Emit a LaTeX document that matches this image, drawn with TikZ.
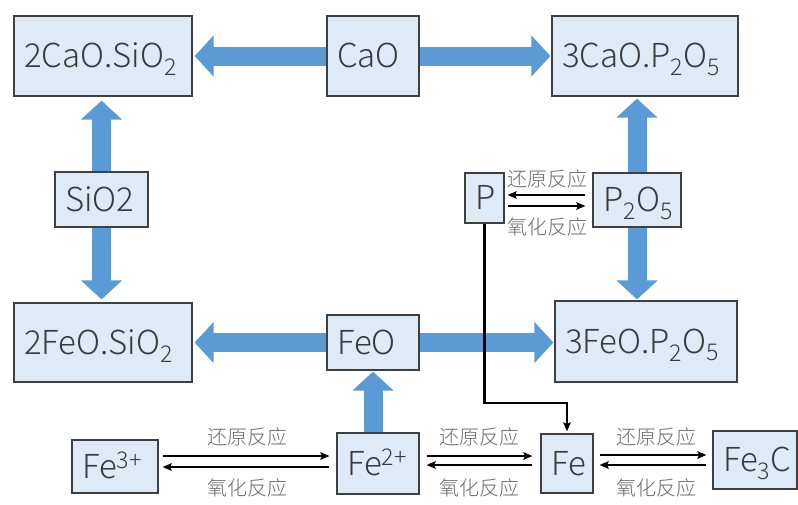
\documentclass[tikz,border=0pt]{standalone}
\usepackage{fontspec}
\setmainfont{Noto Sans CJK SC Light}
\usetikzlibrary{arrows.meta,calc}
\definecolor{boxfill}{HTML}{DEEBF7}
\definecolor{boxline}{HTML}{3F3F3F}
\definecolor{bluearr}{HTML}{5B9BD5}
\definecolor{txt}{HTML}{3A3A3A}
\definecolor{lblc}{HTML}{6A6A6A}
\newcommand\chs[1]{\textsubscript{#1}}
\newcommand\chp[1]{\textsuperscript{#1}}
\begin{document}
\begin{tikzpicture}[x=1pt,y=-1pt,
  box/.style={draw=boxline, fill=boxfill, line width=1.2pt, inner ysep=0pt, inner xsep=10pt,
    align=left, text=txt, font=\fontsize{33}{36}\selectfont, text height=23pt, text depth=0pt},
  lbl/.style={text=lblc, inner sep=0pt, font=\fontsize{20}{22}\selectfont},
  bigarr/.style={draw=bluearr, line width=19pt, -{Triangle[length=19pt,width=40pt]}},
  rx/.style={draw=black, line width=2.1pt, -{Stealth[length=9pt,width=7.5pt,inset=1.5pt]}}]
\fill[white] (0,0) rectangle (798,504);
\useasboundingbox (0,0) rectangle (798,504);
% boxes
\node[box, minimum height=80pt, text width=158pt] (c2s) at (103,56) {2CaO.SiO\chs{2}};
\node[box, minimum height=80pt, text width=72pt] (cao) at (373,56) {CaO};
\node[box, minimum height=80pt, text width=166pt] (c3p) at (645,56) {3CaO.P\chs{2}O\chs{5}};
\node[box, minimum height=55pt, text width=73pt] (sio2) at (101.5,199.5) {SiO2};
\node[box, minimum height=50pt, text width=19pt, inner xsep=10pt] (p) at (484.5,198) {P};
\node[box, minimum height=54pt, text width=68pt] (p2o5) at (637,200) {P\chs{2}O\chs{5}};
\node[box, minimum height=79pt, text width=158pt] (f2s) at (103,342.5) {2FeO.SiO\chs{2}};
\node[box, minimum height=55pt, text width=72pt] (feo) at (373,342.5) {FeO};
\node[box, minimum height=81pt, text width=162pt] (f3p) at (646,341.5) {3FeO.P\chs{2}O\chs{5}};
\node[box, minimum height=53pt, text width=66pt] (fe3) at (115,466.5) {Fe\chp{3+}};
\node[box, minimum height=61pt, text width=62pt] (fe2) at (378,463.5) {Fe\chp{2+}};
\node[box, minimum height=59pt, text width=32pt] (fe) at (567,463.5) {Fe};
\node[box, minimum height=58pt, text width=64pt] (fe3c) at (755,460) {Fe\chs{3}C};
% labels
\node[lbl] (l1) at (547,179) {还原反应};
\node[lbl] (l2) at (547,227) {氧化反应};
\node[lbl] (l3) at (247,437) {还原反应};
\node[lbl] (l4) at (247,488) {氧化反应};
\node[lbl] (l5) at (479,437) {还原反应};
\node[lbl] (l6) at (479,488) {氧化反应};
\node[lbl] (l7) at (656,437) {还原反应};
\node[lbl] (l8) at (656,488) {氧化反应};
% helper levels
\coordinate (ypa) at (0,195);
\coordinate (ypb) at (0,206);
\coordinate (ya) at (0,456);
\coordinate (yb) at (0,467);
\coordinate (yc) at (0,455);
\coordinate (yd) at (0,465);
\coordinate (yk) at (0,403);
% blue arrows
\draw[bigarr, shorten >=2pt] (cao.west) -- (c2s.east);
\draw[bigarr, shorten >=1pt] (cao.east) -- (c3p.west);
\draw[bigarr, shorten >=4pt] (sio2.north) -- (sio2.north |- c2s.south);
\draw[bigarr, shorten >=3pt] (sio2.south) -- (sio2.south |- f2s.north);
\draw[bigarr, shorten >=2pt] (p2o5.north) -- (p2o5.north |- c3p.south);
\draw[bigarr, shorten >=1pt] (p2o5.south) -- (p2o5.south |- f3p.north);
\draw[bigarr, shorten >=2pt] (feo.west) -- (feo.west -| f2s.east);
\draw[bigarr, shorten >=1pt] (feo.east) -- (feo.east -| f3p.west);
\draw[bigarr, shorten >=1pt] (feo.south |- fe2.north) -- (feo.south);
% black reaction arrows
\draw[rx, shorten <=7pt, shorten >=3pt] (p2o5.west |- ypa) -- (p.east |- ypa);
\draw[rx, shorten <=3pt, shorten >=7pt] (p.east |- ypb) -- (p2o5.west |- ypb);
\draw[rx, shorten <=4pt, shorten >=7pt] (fe3.east |- ya) -- (fe2.west |- ya);
\draw[rx, shorten <=7pt, shorten >=4pt] (fe2.west |- yb) -- (fe3.east |- yb);
\draw[rx, shorten <=7pt, shorten >=8pt] (fe2.east |- ya) -- (fe.west |- ya);
\draw[rx, shorten <=8pt, shorten >=7pt] (fe.west |- yd) -- (fe2.east |- yd);
\draw[rx, shorten <=6pt, shorten >=6pt] (fe.east |- yc) -- (fe3c.west |- yc);
\draw[rx, shorten <=6pt, shorten >=6pt] (fe3c.west |- yd) -- (fe.east |- yd);
\draw[rx, shorten >=2pt] (p.south) -- (p.south |- yk) -| (fe.north);
\end{tikzpicture}
\end{document}
